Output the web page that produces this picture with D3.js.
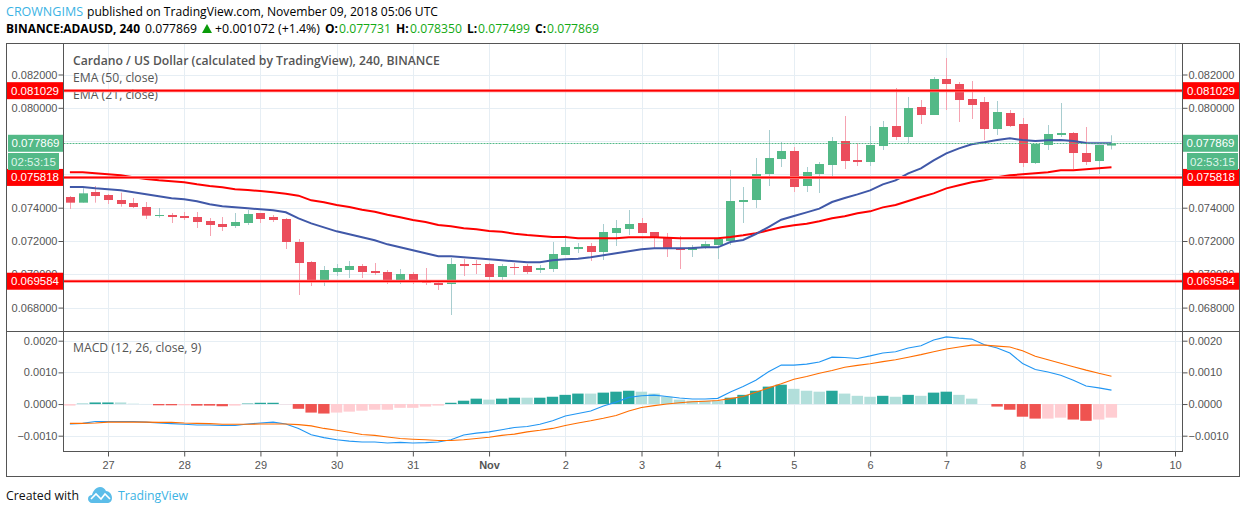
<!DOCTYPE html>
<html>
<head>
<meta charset="utf-8">
<script src="https://cdn.jsdelivr.net/npm/d3@7/dist/d3.min.js"></script>
<style>
html,body{margin:0;padding:0;background:#fff;overflow:hidden}
svg{display:block}
text{font-family:"Liberation Sans",Arial,sans-serif}
.hdr text,.ftr text,.leg text{font-family:"Open Sans","Noto Sans",sans-serif}
.axis text{font-size:11px;fill:#555;font-family:"Liberation Sans",Arial,sans-serif}
.axis line{stroke:#555}
.axis path{display:none}
</style>
</head>
<body>
<div id="chart"></div>
<script>
// ---------- data ----------
const candleOpen = [
.074642,.074302,.074943,.074762,.074462,.074282,.074042,.073521,.073561,.073501,
.073441,.073201,.073021,.072901,.073081,.073681,.073441,.073321,.071940,.070738,
.069657,.070138,.070258,.070498,.070198,.070138,.069597,.070018,.069597,.069477,
.069417,.070618,.070618,.070618,.069838,.070438,.070498,.070258,.070318,.071159,
.071519,.071699,.071339,.072480,.072721,.073081,.072540,.072240,.071579,.071459,
.071619,.071760,.072000,.074342,.074462,.076024,.076924,.077405,.075303,.076024,
.076564,.078006,.076864,.076744,.077705,.078906,.078246,.080048,.079567,.081729,
.081429,.080528,.080348,.078726,.079687,.079027,.076684,.077765,.078366,.078486,
.077285,.076804,.077731];
const candleHigh = [
.074702,.075163,.075303,.074823,.074903,.074582,.074342,.073982,.073681,.073741,
.073741,.073381,.073441,.073681,.073862,.073681,.073561,.073381,.072120,.070799,
.070498,.070618,.070799,.070618,.070678,.070258,.070318,.070138,.070378,.069657,
.070979,.070919,.070859,.070678,.070618,.070678,.070618,.070558,.071940,.072360,
.071880,.071880,.073021,.073261,.073862,.073381,.072540,.072480,.072300,.071760,
.072000,.072120,.076264,.075243,.076984,.078666,.077945,.077645,.076444,.076744,
.078246,.079507,.077885,.078906,.079207,.081189,.080648,.080468,.081849,.082990,
.081549,.081609,.080648,.080408,.079867,.079387,.077825,.078966,.080288,.078546,
.078846,.077765,.078350];
const candleLow = [
.073922,.074302,.074302,.074222,.074062,.073982,.073321,.073401,.073081,.073261,
.072781,.072300,.072600,.072781,.072961,.073081,.073141,.071519,.068756,.069297,
.069297,.069898,.069777,.069777,.069958,.069417,.069417,.069417,.069357,.069057,
.067555,.069898,.070018,.069657,.069537,.069958,.070018,.070078,.070138,.071159,
.071279,.070799,.070859,.071699,.072360,.072480,.071579,.071039,.070318,.071039,
.071519,.070919,.071759,.073081,.073981,.075303,.076444,.074942,.074942,.074882,
.075783,.076324,.076504,.076504,.077465,.078066,.077885,.079027,.079567,.079867,
.079147,.079327,.078066,.078366,.078846,.076444,.076624,.077465,.078246,.076324,
.076564,.076024,.077499];
const candleClose = [
.074302,.074863,.074702,.074462,.074222,.074042,.073521,.073561,.073441,.073381,
.073141,.072961,.072841,.073141,.073621,.073321,.073261,.071940,.070678,.069657,
.070258,.070378,.070498,.070138,.070078,.069597,.070018,.069537,.069477,.069357,
.070618,.070498,.070558,.069838,.070498,.070378,.070138,.070378,.071219,.071639,
.071639,.071339,.072540,.072781,.073021,.072480,.072240,.071579,.071459,.071619,
.071820,.072120,.074402,.074462,.076024,.076984,.077405,.075243,.076144,.076624,
.078006,.076804,.076744,.077765,.078846,.078246,.079988,.079567,.081729,.081429,
.080468,.080168,.078726,.079747,.078906,.076684,.077825,.078426,.078486,.077285,
.076744,.077765,.077869];
const emaRed = [
.076124,.076124,.076064,.076004,.075944,.075824,.075723,.075643,.075583,.075523,
.075403,.075303,.075223,.075103,.075063,.075003,.074923,.074843,.074722,.074442,
.074322,.074162,.074042,.073882,.073762,.073581,.073421,.073261,.073141,.072961,
.072881,.072761,.072700,.072600,.072560,.072440,.072360,.072300,.072240,.072240,
.072160,.072160,.072160,.072160,.072220,.072220,.072220,.072200,.072160,.072160,
.072160,.072160,.072240,.072340,.072460,.072640,.072820,.072940,.073041,.073181,
.073361,.073481,.073661,.073781,.074021,.074162,.074402,.074642,.074862,.075163,
.075343,.075523,.075643,.075823,.075943,.076003,.076064,.076124,.076244,.076244,
.076304,.076364,.076424];
const emaBlue = [
.075243,.075243,.075163,.075103,.075043,.074923,.074803,.074682,.074562,.074502,
.074382,.074202,.074082,.074022,.073962,.073902,.073842,.073722,.073361,.073061,
.072821,.072580,.072400,.072220,.072040,.071800,.071619,.071439,.071259,.071079,
.071079,.071019,.070959,.070899,.070839,.070778,.070718,.070718,.070839,.070899,
.070939,.071019,.071139,.071259,.071379,.071499,.071559,.071559,.071559,.071579,
.071619,.071619,.071939,.072060,.072420,.072840,.073281,.073501,.073721,.073941,
.074342,.074582,.074802,.075043,.075403,.075643,.076064,.076364,.076844,.077265,
.077565,.077805,.077925,.078066,.078166,.078066,.078006,.078046,.078066,.078006,
.077885,.077865,.077865];
const macdLine = [
-.00063,-.00061,-.00055,-.00055,-.00055,-.00055,-.00057,-.00060,-.00062,-.00064,
-.00066,-.00066,-.00068,-.00068,-.00063,-.00060,-.00057,-.00063,-.00077,-.00097,
-.00106,-.00113,-.00117,-.00120,-.00120,-.00123,-.00121,-.00123,-.00122,-.00120,
-.00113,-.00098,-.00092,-.00088,-.00081,-.00074,-.00071,-.00064,-.00053,-.00038,
-.00030,-.00022,-.00006,.00006,.00021,.00026,.00028,.00024,.00019,.00016,
.00016,.00018,.00038,.00055,.00075,.00102,.00123,.00123,.00126,.00133,
.00148,.00147,.00144,.00152,.00161,.00165,.00177,.00184,.00202,.00212,
.00208,.00205,.00187,.00177,.00161,.00128,.00109,.00101,.00091,.00075,
.00057,.00051,.00044];
const macdSignal = [
-.00061,-.00061,-.00060,-.00057,-.00057,-.00057,-.00057,-.00058,-.00058,-.00060,
-.00061,-.00062,-.00064,-.00064,-.00064,-.00063,-.00063,-.00063,-.00065,-.00069,
-.00077,-.00083,-.00089,-.00096,-.00099,-.00104,-.00109,-.00111,-.00113,-.00115,
-.00115,-.00113,-.00109,-.00105,-.00099,-.00095,-.00088,-.00083,-.00077,-.00068,
-.00060,-.00053,-.00045,-.00036,-.00022,-.00011,-.00005,.00000,.00004,.00007,
.00009,.00011,.00017,.00024,.00037,.00051,.00064,.00078,.00087,.00097,
.00106,.00116,.00122,.00127,.00134,.00140,.00148,.00156,.00165,.00174,
.00180,.00186,.00186,.00183,.00180,.00168,.00151,.00140,.00129,.00118,
.00107,.00097,.00088];
const macdHist = [
-.00005,.00001,.00005,.00005,.00005,.00001,.000002,-.00004,-.00004,-.00004,
-.00005,-.00005,-.00007,-.00005,.000015,.00004,.00004,-.00001,-.00015,-.00027,
-.00030,-.00027,-.00024,-.00021,-.00018,-.00018,-.00012,-.00012,-.00008,-.00005,
.00004,.000105,.00017,.00014,.00017,.00020,.00020,.00020,.00023,.00029,
.00033,.00033,.00036,.00039,.00042,.00039,.00033,.00023,.00014,.000105,
.000105,.000105,.00020,.00029,.00042,.00055,.00061,.00048,.00042,.00039,
.00042,.00033,.00026,.00023,.00026,.00023,.00029,.00026,.00036,.00039,
.00029,.00017,.00000,-.00008,-.00018,-.00040,-.00046,-.00046,-.00043,-.00049,
-.00053,-.00049,-.00043];
const histFading = [
1,0,0,0,1,1,1,0,0,1, 0,0,0,1,0,0,0,1,0,0, 0,1,1,1,1,1,1,1,1,1, 0,0,0,1,0,0,1,0,0,0,
0,1,0,0,0,1,1,1,1,1, 1,1,0,0,0,0,0,1,1,1, 0,1,1,1,0,1,0,1,0,0, 1,1,1,0,0,0,0,1,1,0,
0,1,1];
const levels = [0.081029, 0.075818, 0.069584];
const lastPrice = 0.077869;
const countdown = "02:53:15";
const priceGrid = [0.082,0.080,0.078,0.076,0.074,0.072,0.070,0.068];
const priceTicks = [0.082,0.080,0.074,0.072,0.070,0.068];
const macdTicks = [0.002,0.001,0,-0.001];
const dayTicks = ["2018-10-27","2018-10-28","2018-10-29","2018-10-30","2018-10-31","2018-11-01","2018-11-02",
  "2018-11-03","2018-11-04","2018-11-05","2018-11-06","2018-11-07","2018-11-08","2018-11-09","2018-11-10"];
const firstBar = "2018-10-26T12:00:00Z";
const barHours = 4;

// ---------- layout ----------
const W=1246,H=513;
const L=63.5,R=1182.5,T=43.5,B=476.5,FR=1239.5,FL=6.5,PANE=331.5,AX=451.5;
const C={grid:"#e6eef4",axis:"#555",up:"#53b987",down:"#eb4d5c",upW:"#a8cdcf",downW:"#f5a3b1",
  blue:"#4058a8",red:"#ff0000",mB:"#2196f3",mO:"#ff6d00",hU:"#26a69a",hUf:"#b2dfdb",hD:"#ef5350",hDf:"#ffcdd2",link:"#3bb3e4",text:"#555"};

const svg=d3.select("#chart").append("svg").attr("width",W).attr("height",H).attr("viewBox",`0 0 ${W} ${H}`);
const utc=s=>new Date(s.length===10?s+"T00:00:00Z":s);
const x=d3.scaleUtc().domain([utc("2018-10-27"),utc("2018-11-10")]).range([108,1175]);
const y=d3.scaleLinear().domain([0.082,0.068]).range([74.5,307.6]);
const ym=d3.scaleLinear().domain([0.002,-0.001]).range([340.7,435.7]);
const barTimes=candleOpen.map((_,i)=>new Date(utc(firstBar).getTime()+i*barHours*3600e3));
const bx=i=>x(barTimes[i]);
const idx=d3.range(candleOpen.length);

// ---------- grid ----------
const grid=svg.append("g").attr("stroke",C.grid).attr("stroke-width",1).attr("shape-rendering","crispEdges");
const days=dayTicks.map(utc);
grid.selectAll(".v").data(days).join("line").attr("x1",d=>Math.round(x(d))+.5).attr("x2",d=>Math.round(x(d))+.5).attr("y1",T).attr("y2",AX);
grid.selectAll(".h").data(priceGrid).join("line").attr("x1",L).attr("x2",R).attr("y1",d=>Math.round(y(d))+.5).attr("y2",d=>Math.round(y(d))+.5);
grid.selectAll(".m").data(macdTicks).join("line").attr("x1",L).attr("x2",R).attr("y1",d=>Math.round(ym(d))+.5).attr("y2",d=>Math.round(ym(d))+.5);

// ---------- legend text under marks ----------
const leg=svg.append("g").attr("class","leg").attr("fill",C.text).attr("font-size",12.2);
leg.append("text").attr("x",73).attr("y",65).attr("font-weight",600).text("Cardano / US Dollar (calculated by TradingView), 240, BINANCE");
leg.append("text").attr("x",73).attr("y",82).text("EMA (50, close)");
leg.append("text").attr("x",73).attr("y",99).text("EMA (21, close)");
leg.append("text").attr("x",73).attr("y",352).text("MACD (12, 26, close, 9)");

// ---------- candles ----------
const cg=svg.append("g");
cg.selectAll(".w").data(idx).join("line")
  .attr("x1",i=>Math.round(bx(i))+.5).attr("x2",i=>Math.round(bx(i))+.5)
  .attr("y1",i=>y(candleHigh[i])).attr("y2",i=>y(candleLow[i]))
  .attr("stroke",i=>candleClose[i]>=candleOpen[i]?C.upW:C.downW);
cg.selectAll(".b").data(idx).join("rect")
  .attr("x",i=>Math.round(bx(i))-4).attr("width",9)
  .attr("y",i=>y(Math.max(candleOpen[i],candleClose[i])))
  .attr("height",i=>Math.max(1,Math.abs(y(candleOpen[i])-y(candleClose[i]))))
  .attr("fill",i=>candleClose[i]>=candleOpen[i]?C.up:C.down);

// ---------- EMA lines ----------
const ln=a=>d3.line().x((_,i)=>bx(i)).y(d=>y(d))(a);
svg.append("path").attr("d",ln(emaRed)).attr("fill","none").attr("stroke",C.red).attr("stroke-width",2);
svg.append("path").attr("d",ln(emaBlue)).attr("fill","none").attr("stroke",C.blue).attr("stroke-width",2);

// ---------- last price line and levels ----------
svg.append("line").attr("x1",L).attr("x2",R).attr("y1",Math.round(y(lastPrice))+.5).attr("y2",Math.round(y(lastPrice))+.5)
  .attr("stroke",C.up).attr("stroke-dasharray","2 1");
const lv=svg.append("g");
lv.selectAll(".h").data(levels).join("line").attr("x1",L).attr("x2",R).attr("y1",d=>y(d)).attr("y2",d=>y(d))
  .attr("stroke","#ff8a8a").attr("stroke-width",3);
lv.selectAll(".c").data(levels).join("line").attr("x1",L).attr("x2",R).attr("y1",d=>y(d)).attr("y2",d=>y(d))
  .attr("stroke",C.red).attr("stroke-width",1.6);

// ---------- MACD ----------
const hc=i=>macdHist[i]>=0?(histFading[i]?C.hUf:C.hU):(histFading[i]?C.hDf:C.hD);
svg.append("g").selectAll("rect").data(idx).join("rect")
  .attr("x",i=>bx(i)-5.8).attr("width",11.4)
  .attr("y",i=>Math.min(ym(0),ym(macdHist[i])))
  .attr("height",i=>Math.abs(ym(macdHist[i])-ym(0)))
  .attr("fill",hc);
const lm=a=>d3.line().x((_,i)=>bx(i)).y(d=>ym(d))(a);
svg.append("path").attr("d",lm(macdLine)).attr("fill","none").attr("stroke",C.mB).attr("stroke-width",1.1);
svg.append("path").attr("d",lm(macdSignal)).attr("fill","none").attr("stroke",C.mO).attr("stroke-width",1.1);

// ---------- axes ----------
const fP=d3.format(".6f"),fM=d3.format(".4f");
const mkY=(gen,sc,ticks,f,tx)=>svg.append("g").attr("class","axis").attr("transform",`translate(${tx},0)`)
  .call(gen(sc).tickValues(ticks).tickFormat(f).tickSize(5).tickPadding(1));
mkY(d3.axisLeft,y,priceTicks,fP,L);
mkY(d3.axisRight,y,priceTicks,fP,R);
mkY(d3.axisLeft,ym,macdTicks,fM,L);
mkY(d3.axisRight,ym,macdTicks,fM,R);
const xa=svg.append("g").attr("class","axis").attr("transform",`translate(0,${AX})`)
  .call(d3.axisBottom(x).tickValues(days).tickSize(5).tickPadding(5)
    .tickFormat(d=>d.getUTCDate()===1?"Nov":String(d.getUTCDate())));
xa.selectAll("text").filter(d=>d.getUTCDate()===1).attr("font-weight","bold");

// ---------- flags ----------
function flag(x0,x1,yc,h,fill,label,col){
  svg.append("rect").attr("x",x0).attr("y",yc-h/2).attr("width",x1-x0).attr("height",h).attr("fill",fill);
  svg.append("text").attr("x",(x0+x1)/2).attr("y",yc+4).attr("text-anchor","middle").attr("font-size",11.5).attr("fill",col||"#fff").text(label);
}
levels.forEach(v=>{flag(7,63,y(v),17,C.red,fP(v));flag(1183,1239,y(v),17,C.red,fP(v));});
flag(8,63,y(lastPrice),17,C.up,fP(lastPrice));
flag(1183,1238,y(lastPrice),17,C.up,fP(lastPrice));
flag(8,59,161.5,17,C.up,countdown,"#dff5ea");
flag(1187,1238,161.5,17,C.up,countdown,"#dff5ea");

// ---------- frame ----------
const fr=svg.append("g").attr("stroke",C.axis).attr("stroke-width",1.3).attr("fill","none").attr("shape-rendering","crispEdges");
fr.append("rect").attr("x",FL).attr("y",T).attr("width",FR-FL).attr("height",B-T);
[[L,T,L,AX],[R,T,R,AX],[FL,PANE,FR,PANE],[L,AX,R,AX]].forEach(s=>
  fr.append("line").attr("x1",s[0]).attr("y1",s[1]).attr("x2",s[2]).attr("y2",s[3]));

// ---------- header ----------
const hd=svg.append("g").attr("class","hdr").attr("font-size",12.9);
const t=(x,y,s,o={})=>{
  const e=hd.append("text").attr("x",x).attr("y",y).attr("fill",o.c||"#000").attr("font-weight",o.b?700:400).text(s);
  if(o.b) e.attr("font-size",12);
  if(o.w) e.attr("textLength",o.w).attr("lengthAdjust","spacingAndGlyphs");
  return e;
};
t(6,16,"CROWNGIMS",{c:C.link,w:77});
t(87,16,"published on TradingView.com, November 09, 2018 05:06 UTC",{w:351});
t(6,33,"BINANCE:ADAUSD, 240",{b:1,w:134});
t(145,33,"0.077869",{w:52});
hd.append("path").attr("d","M202 33L207 24L212 33Z").attr("fill","#0a9b0a");
t(215,33,"+0.001072 (+1.4%)",{w:105});
const ohlc=[["O:",325,339,"0.077731"],["H:",396,410,"0.078350"],["L:",467,478,"0.077499"],["C:",535,547,"0.077869"]];
ohlc.forEach(r=>{t(r[1],33,r[0],{b:1});t(r[2],33,r[3],{c:"#13a913",w:52});});

// ---------- footer ----------
const ft=svg.append("g").attr("class","ftr").attr("font-size",12.9);
ft.append("text").attr("x",6).attr("y",500).attr("fill","#111").attr("textLength",73).attr("lengthAdjust","spacingAndGlyphs").text("Created with");
ft.append("path").attr("d","M88 499C88 496 90 495 92 495C93 491 96 487 100 487C103 487 105 489 106 491C109 491 112 494 112 498C112 501 110 503 107 503L92 503C90 503 88 501 88 499Z").attr("fill","#5cbde9");
ft.append("path").attr("d","M91 499L96 494L101 499L105 494L110 499").attr("fill","none").attr("stroke","#fff").attr("stroke-width",1.6);
ft.append("text").attr("x",118).attr("y",500).attr("fill",C.link).attr("textLength",70).attr("lengthAdjust","spacingAndGlyphs").text("TradingView");
</script>
</body>
</html>
